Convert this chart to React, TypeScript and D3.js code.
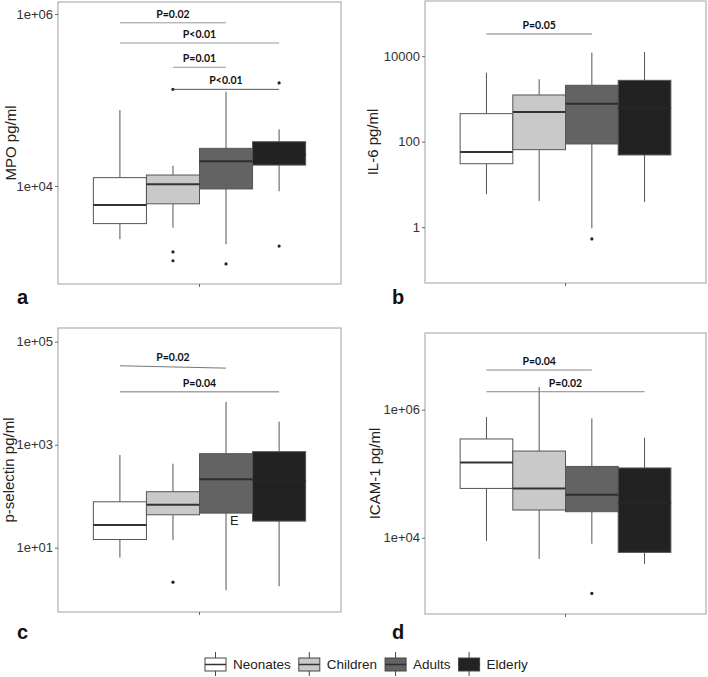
import React, { useRef, useEffect } from 'react';
import * as d3 from 'd3';

const groups = ['Neonates', 'Children', 'Adults', 'Elderly'];

// [lower whisker, Q1, median, Q3, upper whisker]
const mpoBoxes = [
  [2400, 3650, 6000, 12500, 76500],
  [3270, 6200, 10450, 13400, 17200],
  [2100, 9230, 19400, 27400, 125000],
  [8670, 17500, 23000, 32700, 45600],
];
const mpoOutliers = [[], [133000, 1710, 1350], [1240], [158000, 2000]];
const mpoTicks = [1e4, 1e6];
const mpoTickLabels = ['1e+04', '1e+06'];

const il6Boxes = [
  [5.9, 30.5, 57.4, 452, 4110],
  [4.1, 65, 495, 1236, 2880],
  [0.94, 88.4, 774, 2085, 12080],
  [3.9, 48.9, 615, 2720, 12500],
];
const il6Outliers = [[], [], [0.53], []];
const il6Ticks = [1, 100, 10000];
const il6TickLabels = ['1', '100', '10000'];

const pselBoxes = [
  [6.4, 14.4, 27.7, 77.8, 631],
  [14, 43.5, 68, 122, 427],
  [1.49, 46.9, 212, 668, 6760],
  [1.78, 32.8, 200, 731, 2800],
];
const pselOutliers = [[], [2.14], [], []];
const pselTicks = [1e1, 1e3, 1e5];
const pselTickLabels = ['1e+01', '1e+03', '1e+05'];

const icamBoxes = [
  [8870, 58900, 150000, 349000, 769000],
  [4650, 27100, 58900, 226000, 2260000],
  [8050, 25500, 47000, 130000, 733000],
  [3880, 5900, 35000, 123000, 365000],
];
const icamOutliers = [[], [], [1350], []];
const icamTicks = [1e4, 1e6];
const icamTickLabels = ['1e+04', '1e+06'];

// significance brackets: groups compared, height in data units
const mpoPvals = [
  { label: 'P=0.02', from: 0, to: 2, at: 7.9e5 },
  { label: 'P<0.01', from: 0, to: 3, at: 4.6e5 },
  { label: 'P=0.01', from: 1, to: 2, at: 2.4e5 },
  { label: 'P<0.01', from: 1, to: 3, at: 1.33e5 },
];
const il6Pvals = [{ label: 'P=0.05', from: 0, to: 2, at: 33000 }];
const pselPvals = [
  { label: 'P=0.02', from: 0, to: 2, at: 34000, atEnd: 30600 },
  { label: 'P=0.04', from: 0, to: 3, at: 10600 },
];
const icamPvals = [
  { label: 'P=0.04', from: 0, to: 2, at: 4.17e6 },
  { label: 'P=0.02', from: 0, to: 3, at: 1.91e6 },
];

const fills = ['#ffffff', '#c9c9c9', '#636363', '#222222'];
const medianColors = ['#333', '#333', '#2e2e2e', '#252525'];
const pLineColors = [['#9a9a9a', '#9a9a9a', '#9a9a9a', '#555'], ['#777'], ['#777', '#777'], ['#888', '#888']];

const panels = [
  { letter: 'a', title: 'MPO pg/ml', boxes: mpoBoxes, outliers: mpoOutliers, ticks: mpoTicks, tickLabels: mpoTickLabels,
    pvals: mpoPvals, domain: [724, 1.38e6], x0: 58, x1: 341, y0: 2, y1: 284, labelX: 11, letterY: 304 },
  { letter: 'b', title: 'IL-6 pg/ml', boxes: il6Boxes, outliers: il6Outliers, ticks: il6Ticks, tickLabels: il6TickLabels,
    pvals: il6Pvals, domain: [0.0495, 195000], x0: 425, x1: 706, y0: 1, y1: 283, labelX: 373, letterY: 304 },
  { letter: 'c', title: 'p-selectin pg/ml', boxes: pselBoxes, outliers: pselOutliers, ticks: pselTicks, tickLabels: pselTickLabels,
    pvals: pselPvals, domain: [0.564, 184000], x0: 58, x1: 341, y0: 328, y1: 612, labelX: 9, letterY: 639 },
  { letter: 'd', title: 'ICAM-1 pg/ml', boxes: icamBoxes, outliers: icamOutliers, ticks: icamTicks, tickLabels: icamTickLabels,
    pvals: icamPvals, domain: [643, 1.58e7], x0: 425, x1: 706, y0: 333, y1: 614, labelX: 375, letterY: 639 },
];

const sans = '"Liberation Sans", Arial, sans-serif';

const App: React.FC = () => {
  const ref = useRef<SVGSVGElement | null>(null);

  useEffect(() => {
    if (!ref.current) return;
    const svg = d3.select(ref.current);
    svg.selectAll('*').remove();

    svg.append('rect').attr('width', 708).attr('height', 677).attr('fill', '#fff');

    panels.forEach((p, pi) => {
      const g = svg.append('g');
      const w = p.x1 - p.x0;
      const y = d3.scaleLog().domain(p.domain).range([p.y1, p.y0]);
      const x = d3.scaleBand<string>().domain(groups).range([p.x0 + w * 0.125, p.x1 - w * 0.125]).padding(0);
      const cx = (i: number) => (x(groups[i]) ?? 0) + x.bandwidth() / 2;

      // panel border
      g.append('rect')
        .attr('x', p.x0).attr('y', p.y0)
        .attr('width', w).attr('height', p.y1 - p.y0)
        .attr('fill', 'none').attr('stroke', '#a0a0a0').attr('stroke-width', 1);

      // y axis
      const yAxis = g.append('g')
        .attr('transform', `translate(${p.x0},0)`)
        .call(d3.axisLeft(y).tickValues(p.ticks).tickFormat((_d, i) => p.tickLabels[i]).tickSize(3).tickPadding(2));
      yAxis.select('.domain').remove();
      yAxis.selectAll('line').attr('stroke', '#666');
      yAxis.selectAll('text').attr('font-family', sans).attr('font-size', 13).attr('fill', '#333');

      // single x tick at centre
      g.append('line')
        .attr('x1', (p.x0 + p.x1) / 2).attr('x2', (p.x0 + p.x1) / 2)
        .attr('y1', p.y1).attr('y2', p.y1 + 3)
        .attr('stroke', '#666');

      // whiskers
      p.boxes.forEach((b, i) => {
        g.append('line').attr('x1', cx(i)).attr('x2', cx(i)).attr('y1', y(b[3])).attr('y2', y(b[4])).attr('stroke', '#555');
        g.append('line').attr('x1', cx(i)).attr('x2', cx(i)).attr('y1', y(b[1])).attr('y2', y(b[0])).attr('stroke', '#555');
      });

      // boxes
      g.selectAll('rect.box')
        .data(p.boxes)
        .join('rect')
        .attr('class', 'box')
        .attr('x', (_b, i) => x(groups[i]) ?? 0)
        .attr('width', x.bandwidth())
        .attr('y', b => y(b[3]))
        .attr('height', b => y(b[1]) - y(b[3]))
        .attr('fill', (_b, i) => fills[i])
        .attr('stroke', '#555')
        .attr('stroke-width', 1);

      // medians
      g.selectAll('line.median')
        .data(p.boxes)
        .join('line')
        .attr('class', 'median')
        .attr('x1', (_b, i) => x(groups[i]) ?? 0)
        .attr('x2', (_b, i) => (x(groups[i]) ?? 0) + x.bandwidth())
        .attr('y1', b => y(b[2]))
        .attr('y2', b => y(b[2]))
        .attr('stroke', (_b, i) => medianColors[i])
        .attr('stroke-width', 2);

      // outliers
      p.outliers.forEach((os, i) => {
        os.forEach(v => {
          g.append('circle').attr('cx', cx(i)).attr('cy', y(v)).attr('r', 1.6).attr('fill', '#222');
        });
      });

      // significance lines
      p.pvals.forEach((pv: any, k) => {
        const xa = cx(pv.from);
        const xb = cx(pv.to);
        const ya = y(pv.at);
        const yb = y(pv.atEnd ?? pv.at);
        g.append('line')
          .attr('x1', xa).attr('x2', xb).attr('y1', ya).attr('y2', yb)
          .attr('stroke', pLineColors[pi][k]).attr('stroke-width', 1);
        g.append('text')
          .attr('x', (xa + xb) / 2)
          .attr('y', Math.min(ya, yb) - 5)
          .attr('text-anchor', 'middle')
          .attr('font-family', 'Lato, "Open Sans", sans-serif')
          .attr('font-weight', 'bold')
          .attr('font-size', 10.5)
          .attr('fill', '#111')
          .text(pv.label);
      });

      // y label
      g.append('text')
        .attr('transform', `translate(${p.labelX},${(p.y0 + p.y1) / 2}) rotate(-90)`)
        .attr('text-anchor', 'middle')
        .attr('dy', '0.35em')
        .attr('font-family', sans)
        .attr('font-size', 15)
        .attr('fill', '#222')
        .text(p.title);

      // panel letter
      g.append('text')
        .attr('x', pi % 2 === 0 ? 17 : 392)
        .attr('y', p.letterY)
        .attr('font-family', sans)
        .attr('font-weight', 'bold')
        .attr('font-size', 20)
        .attr('fill', '#111')
        .text(p.letter);

      // stray mark in panel c
      if (p.letter === 'c') {
        g.append('text')
          .attr('x', cx(2) + 4)
          .attr('y', y(pselBoxes[2][1]) + 12)
          .attr('font-family', sans)
          .attr('font-size', 13)
          .attr('fill', '#222')
          .text('E');
      }
    });

    // legend
    const legend = svg.append('g');
    let lx = 205;
    groups.forEach((name, i) => {
      const kx = lx;
      legend.append('line').attr('x1', kx + 10.5).attr('x2', kx + 10.5).attr('y1', 652).attr('y2', 676).attr('stroke', '#444');
      legend.append('rect').attr('x', kx).attr('y', 658).attr('width', 21).attr('height', 13)
        .attr('fill', fills[i]).attr('stroke', '#444');
      legend.append('line').attr('x1', kx).attr('x2', kx + 21).attr('y1', 664.5).attr('y2', 664.5)
        .attr('stroke', medianColors[i]).attr('stroke-width', 1.5);
      const t = legend.append('text')
        .attr('x', kx + 28)
        .attr('y', 669)
        .attr('font-family', sans)
        .attr('font-size', 13.5)
        .attr('fill', '#222')
        .text(name);
      const tw = (t.node() as SVGTextElement).getComputedTextLength();
      lx = kx + 28 + tw + 8;
    });
  }, []);

  return (
    <svg
      ref={ref}
      width={708}
      height={677}
      style={{ position: 'absolute', left: 0, top: 0 }}
    />
  );
};

export default App;
